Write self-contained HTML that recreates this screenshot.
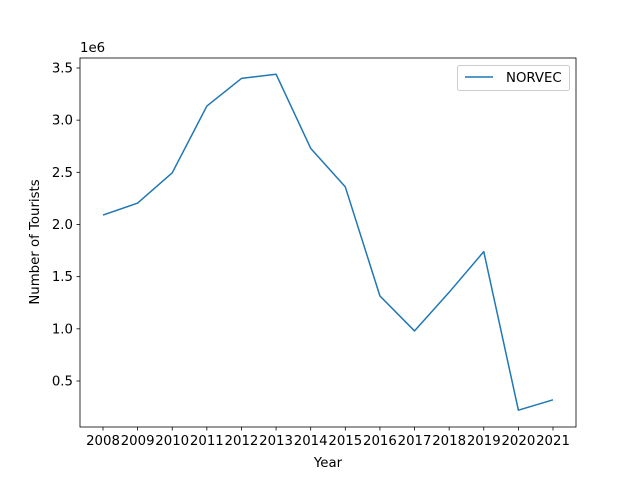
<!DOCTYPE html>
<html><head><meta charset="utf-8"><style>
body{margin:0;background:#fff;}
svg{display:block;font-family:"DejaVu Sans","Liberation Sans",sans-serif;}
</style></head><body>
<svg id="chart" width="640" height="480" xmlns="http://www.w3.org/2000/svg">
<rect width="640" height="480" fill="#fff"/>
<text x="80" y="52" font-size="13.3">1e6</text>
<text x="328" y="467" font-size="13.3" text-anchor="middle">Year</text>
<text transform="translate(39,242) rotate(-90)" font-size="13.3" text-anchor="middle">Number of Tourists</text>
<g>
<rect x="457.5" y="65.5" width="112" height="25" rx="2" fill="#fff" stroke="#ccc"/>
<line x1="465" y1="77" x2="493" y2="77" stroke="#1f77b4" stroke-width="1.5"/>
<text x="506" y="82" font-size="13.3">NORVEC</text>
</g>
</svg>
<script>
const years = [2008,2009,2010,2011,2012,2013,2014,2015,2016,2017,2018,2019,2020,2021];
const tourists = [2.09,2.205,2.495,3.135,3.4,3.44,2.73,2.36,1.315,0.98,1.35,1.74,0.22,0.32];
const yTicks = [0.5,1.0,1.5,2.0,2.5,3.0,3.5];
const yTickLabels = ["0.5","1.0","1.5","2.0","2.5","3.0","3.5"];

const NS="http://www.w3.org/2000/svg";
const svg=document.getElementById('chart');
const L=80,R=576,T=58,B=427;
const xS=i=>103+(553-103)*i/(years.length-1);
const yS=v=>381-(v-0.5)/0.5*52.17;
function mk(tag,attrs){const e=document.createElementNS(NS,tag);for(const k in attrs)e.setAttribute(k,attrs[k]);svg.appendChild(e);return e;}
const frame=mk('rect',{x:L,y:T,width:R-L,height:B-T,fill:'none',stroke:'#000','stroke-width':0.8});


yTicks.forEach((v,i)=>{
  const y=yS(v);
  const t=mk('line',{x1:L-3.5,x2:L,y1:y,y2:y,stroke:'#000','stroke-width':0.8});
  
  
  const l=mk('text',{x:L-7,y:y+4.5,'font-size':13.3,'text-anchor':'end'});
  l.textContent=yTickLabels[i];
  
  
});
years.forEach((yr,i)=>{
  const x=xS(i);
  const t=mk('line',{x1:x,x2:x,y1:B,y2:B+3.5,stroke:'#000','stroke-width':0.8});
  
  
  const l=mk('text',{x:x,y:B+18,'font-size':13.3,'text-anchor':'middle'});
  l.textContent=yr;
  
  
});
const pts=tourists.map((v,i)=>xS(i)+','+yS(v)).join(' ');
const line=mk('polyline',{points:pts,fill:'none',stroke:'#1f77b4','stroke-width':1.5,'stroke-linejoin':'round'});


</script>
</body></html>
